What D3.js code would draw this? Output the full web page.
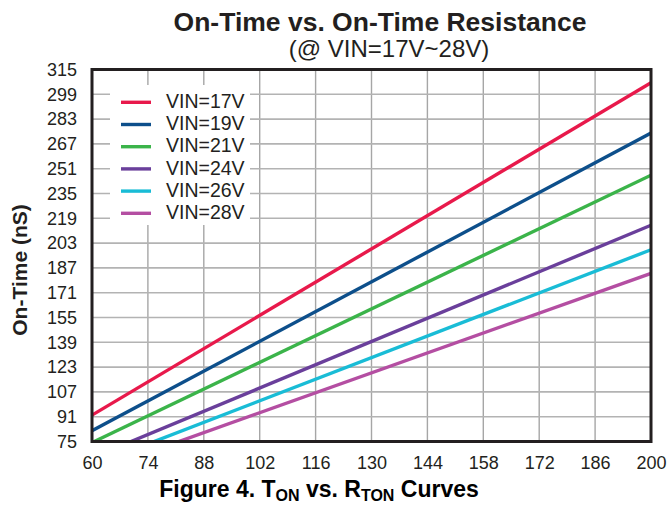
<!DOCTYPE html>
<html>
<head>
<meta charset="utf-8">
<script src="https://cdn.jsdelivr.net/npm/d3@7"></script>
<style>
  html, body { margin: 0; padding: 0; background: #fff; }
  svg { display: block; font-family: "Liberation Sans", Arial, sans-serif; }
</style>
</head>
<body>
<svg id="chart" width="669" height="508"></svg>
<script>
// ---- data ----
const seriesNames = ["VIN=17V", "VIN=19V", "VIN=21V", "VIN=24V", "VIN=26V", "VIN=28V"];
const seriesColors = ["#e8194b", "#0d4f8b", "#3bb44a", "#6a3f9b", "#19bcd6", "#b44ea2"];
const rtonValues = [60, 200];
const vin17 = [92, 306.5];
const vin19 = [82, 274];
const vin21 = [74.3, 246.8];
const vin24 = [64.5, 214.5];
const vin26 = [59.5, 198.7];
const vin28 = [55, 183.5];
const seriesValues = [vin17, vin19, vin21, vin24, vin26, vin28];
const xTicks = [60, 74, 88, 102, 116, 130, 144, 158, 172, 186, 200];
const yTicks = [75, 91, 107, 123, 139, 155, 171, 187, 203, 219, 235, 251, 267, 283, 299, 315];

// ---- layout ----
const svg = d3.select("#chart");
const L = 92, R = 651, T = 69.5, B = 441.5;
const x = d3.scaleLinear().domain([60, 200]).range([L, R]);
const y = d3.scaleLinear().domain([75, 315]).range([B, T]);

// grid
const grid = svg.append("g");
grid.selectAll("line.v").data(xTicks).join("line")
  .attr("x1", d => x(d)).attr("x2", d => x(d)).attr("y1", T).attr("y2", B)
  .attr("stroke", "#a6a6a6").attr("stroke-width", 1.4);
grid.selectAll("line.h").data(yTicks).join("line")
  .attr("x1", L).attr("x2", R).attr("y1", d => y(d)).attr("y2", d => y(d))
  .attr("stroke", "#b3b3b3").attr("stroke-width", 1.6);

// legend background
svg.append("rect").attr("x", 110).attr("y", 85).attr("width", 140).attr("height", 140).attr("fill", "#fff");

// lines
svg.append("clipPath").attr("id", "clip").append("rect")
  .attr("x", L).attr("y", T).attr("width", R - L).attr("height", B - T);
const line = d3.line().x((d, i) => x(rtonValues[i])).y(d => y(d));
svg.append("g").attr("clip-path", "url(#clip)")
  .selectAll("path").data(seriesValues).join("path")
  .attr("d", d => line(d))
  .attr("fill", "none")
  .attr("stroke", (d, i) => seriesColors[i])
  .attr("stroke-width", 3.4);

// frame
svg.append("rect").attr("x", L).attr("y", T).attr("width", R - L).attr("height", B - T)
  .attr("fill", "none").attr("stroke", "#231f20").attr("stroke-width", 3);

// axes (labels only)
const xAxis = svg.append("g").attr("transform", `translate(0,${B})`)
  .call(d3.axisBottom(x).tickValues(xTicks).tickSize(0).tickPadding(15).tickFormat(d3.format("d")));
xAxis.select(".domain").remove();
xAxis.selectAll("text").attr("font-size", 18).attr("fill", "#231f20").attr("font-family", "Liberation Sans, Arial, sans-serif");

const yAxis = svg.append("g").attr("transform", `translate(${L - 15},0)`)
  .call(d3.axisLeft(y).tickValues(yTicks).tickSize(0).tickPadding(0).tickFormat(d3.format("d")));
yAxis.select(".domain").remove();
yAxis.selectAll("text").attr("font-size", 18).attr("fill", "#231f20").attr("font-family", "Liberation Sans, Arial, sans-serif");

// legend
const lg = svg.append("g");
seriesNames.forEach((name, i) => {
  const yy = 102.3 + i * 22.2;
  lg.append("line").attr("x1", 121).attr("x2", 151).attr("y1", yy).attr("y2", yy)
    .attr("stroke", seriesColors[i]).attr("stroke-width", 3.4);
  lg.append("text").attr("x", 166).attr("y", yy + 5.6).attr("font-size", 19.5)
    .attr("fill", "#231f20").text(name);
});

// titles
svg.append("text").attr("x", 380).attr("y", 31).attr("text-anchor", "middle")
  .attr("font-size", 26.5).attr("font-weight", "bold").attr("fill", "#231f20")
  .text("On-Time vs. On-Time Resistance");
svg.append("text").attr("x", 389).attr("y", 57).attr("text-anchor", "middle")
  .attr("font-size", 24).attr("fill", "#231f20")
  .text("(@ VIN=17V~28V)");

svg.append("text").attr("transform", "translate(27,270) rotate(-90)")
  .attr("text-anchor", "middle").attr("font-size", 21).attr("font-weight", "bold").attr("fill", "#231f20")
  .text("On-Time (nS)");

// caption
const cap = svg.append("text").attr("x", 319).attr("y", 497).attr("text-anchor", "middle")
  .attr("font-size", 23).attr("font-weight", "bold").attr("fill", "#000");
cap.append("tspan").text("Figure 4. T");
cap.append("tspan").attr("font-size", 16).attr("dy", 4).text("ON");
cap.append("tspan").attr("dy", -4).text(" vs. R");
cap.append("tspan").attr("font-size", 16).attr("dy", 4).text("TON");
cap.append("tspan").attr("dy", -4).text(" Curves");
</script>
</body>
</html>
